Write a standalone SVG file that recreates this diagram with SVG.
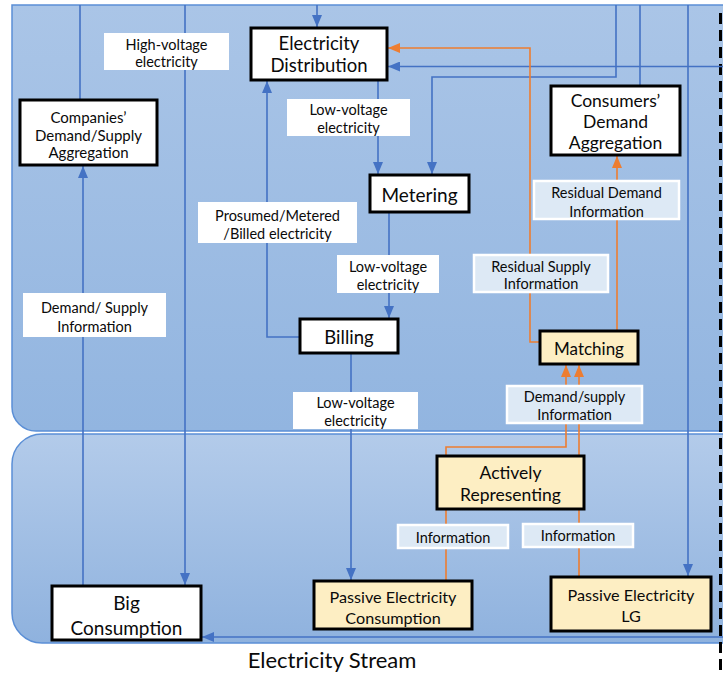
<svg xmlns="http://www.w3.org/2000/svg" width="723" height="675" viewBox="0 0 723 675">
  <defs>
    <linearGradient id="gTop" x1="0" y1="0" x2="0" y2="1">
      <stop offset="0" stop-color="#aac5e7"/>
      <stop offset="1" stop-color="#92b5e0"/>
    </linearGradient>
    <linearGradient id="gBottom" x1="0" y1="0" x2="0" y2="1">
      <stop offset="0" stop-color="#b3cbea"/>
      <stop offset="1" stop-color="#8fb2de"/>
    </linearGradient>
    <marker id="arrBlue" viewBox="0 0 12 10" markerWidth="12" markerHeight="10" refX="12" refY="5" orient="auto" markerUnits="userSpaceOnUse">
      <path d="M0,0 L12,5 L0,10 z" fill="#4472c4"/>
    </marker>
    <marker id="arrOrange" viewBox="0 0 12 10" markerWidth="12" markerHeight="10" refX="12" refY="5" orient="auto" markerUnits="userSpaceOnUse">
      <path d="M0,0 L12,5 L0,10 z" fill="#ed7d31"/>
    </marker>
  </defs>
  <style>
    text { font-family: Lato, "Open Sans", "Liberation Sans", sans-serif; fill: #0a0a0a; text-anchor: middle; dominant-baseline: central; }
    .node rect { fill: #ffffff; stroke: #000; stroke-width: 3; }
    .node.warm rect { fill: #fdeec3; }
    .node text { font-size: 17.5px; }
    .node.big text { font-size: 19px; }
    .node.small text { font-size: 15px; }
    .node.mid text { font-size: 16.2px; }
    .lbl rect { fill: #ffffff; }
    .lbl.info rect { fill: #dde9f5; stroke: #ffffff; stroke-width: 2.5; }
    .lbl text { font-size: 14.5px; }
    .blue { fill: none; stroke: #4472c4; stroke-width: 1.6; }
    .orange { fill: none; stroke: #ed7d31; stroke-width: 1.6; }
    .blue.arrow { marker-end: url(#arrBlue); }
    .orange.arrow { marker-end: url(#arrOrange); }
  </style>

  <rect width="723" height="675" fill="#ffffff"/>

  <!-- swim lanes -->
  <g id="lanes">
    <path d="M12,5 H730 V431 H36 A24,24 0 0 1 12,407 Z" fill="url(#gTop)" stroke="#5b8fd6" stroke-width="1.5"/>
    <path d="M42,434 H730 V643 H42 A30,30 0 0 1 12,613 V464 A30,30 0 0 1 42,434 Z" fill="url(#gBottom)" stroke="#5b8fd6" stroke-width="1.5"/>
  </g>

  <!-- boundary -->
  <line x1="720.5" y1="13" x2="720.5" y2="675" stroke="#000" stroke-width="3" stroke-dasharray="11 6"/>

  <!-- connectors -->
  <g id="connectors">
    <path class="blue" d="M80,5 V100"/>
    <path class="blue arrow" d="M83,586 V166"/>
    <path class="blue arrow" d="M185,5 V585"/>
    <path class="blue arrow" d="M317,5 V27"/>
    <path class="blue arrow" d="M378,80 V174"/>
    <path class="blue arrow" d="M723,66.5 H388"/>
    <path class="blue arrow" d="M616,5 V77 H432 V174"/>
    <path class="blue" d="M640,5 V86"/>
    <path class="blue arrow" d="M688,5 V576"/>
    <path class="blue arrow" d="M300,337 H267 V81"/>
    <path class="blue arrow" d="M389,212 V318"/>
    <path class="blue arrow" d="M351,353 V580"/>
    <path class="blue arrow" d="M723,637 H202"/>
    <path class="orange arrow" d="M540,342 H530 V48 H388"/>
    <path class="orange arrow" d="M617,331 V156"/>
    <path class="orange arrow" d="M446,581 V447 H566 V365"/>
    <path class="orange arrow" d="M579,577 V365"/>
  </g>

  <!-- connector labels -->
  <g id="labels">
    <g class="lbl"><rect x="104" y="33" width="125" height="37"/><text x="166.5" y="44">High-voltage</text><text x="166.5" y="61">electricity</text></g>
    <g class="lbl"><rect x="287" y="99" width="123" height="37"/><text x="348.5" y="109">Low-voltage</text><text x="348.5" y="127">electricity</text></g>
    <g class="lbl"><rect x="198" y="202" width="159" height="41"/><text x="277.5" y="215">Prosumed/Metered</text><text x="277.5" y="233">/Billed electricity</text></g>
    <g class="lbl"><rect x="337" y="255" width="102" height="38"/><text x="388" y="266">Low-voltage</text><text x="388" y="284">electricity</text></g>
    <g class="lbl"><rect x="293" y="392" width="125" height="37"/><text x="355.5" y="402">Low-voltage</text><text x="355.5" y="420">electricity</text></g>
    <g class="lbl"><rect x="23" y="293" width="143" height="44"/><text x="94.5" y="307">Demand/ Supply</text><text x="94.5" y="326">Information</text></g>
    <g class="lbl info"><rect x="534" y="181" width="145" height="38"/><text x="606.5" y="192">Residual Demand</text><text x="606.5" y="211">Information</text></g>
    <g class="lbl info"><rect x="474" y="255" width="134" height="37"/><text x="541" y="266">Residual Supply</text><text x="541" y="283">Information</text></g>
    <g class="lbl info"><rect x="507" y="386" width="135" height="37"/><text x="574.5" y="396">Demand/supply</text><text x="574.5" y="414">Information</text></g>
    <g class="lbl info"><rect x="398" y="525" width="110" height="23"/><text x="453" y="537">Information</text></g>
    <g class="lbl info"><rect x="523" y="524" width="110" height="23"/><text x="578" y="535.5">Information</text></g>
  </g>

  <!-- nodes -->
  <g id="companies-aggregation" class="node small"><rect x="20" y="100" width="137" height="65"/><text x="88.5" y="117">Companies’</text><text x="88.5" y="135">Demand/Supply</text><text x="88.5" y="152">Aggregation</text></g>
  <g id="electricity-distribution" class="node"><rect x="251" y="28" width="136" height="52"/><text x="319" y="43" style="font-size:18.5px">Electricity</text><text x="319" y="65" style="font-size:18.5px">Distribution</text></g>
  <g id="consumers-aggregation" class="node"><rect x="551" y="86" width="129" height="69"/><text x="615.5" y="100">Consumers’</text><text x="615.5" y="121">Demand</text><text x="615.5" y="142">Aggregation</text></g>
  <g id="metering" class="node big"><rect x="370" y="175" width="99" height="37"/><text x="419.5" y="194">Metering</text></g>
  <g id="billing" class="node"><rect x="300" y="319" width="98" height="34"/><text x="349" y="337" style="font-size:18.5px">Billing</text></g>
  <g id="matching" class="node warm"><rect x="540" y="331" width="98" height="33"/><text x="589" y="348" style="font-size:17px">Matching</text></g>
  <g id="actively-representing" class="node warm"><rect x="437" y="456" width="147" height="53"/><text x="510.5" y="472">Actively</text><text x="510.5" y="494">Representing</text></g>
  <g id="passive-consumption" class="node warm mid"><rect x="314" y="581" width="158" height="48"/><text x="393" y="596">Passive Electricity</text><text x="393" y="617">Consumption</text></g>
  <g id="passive-lg" class="node warm mid"><rect x="551" y="577" width="160" height="54"/><text x="631" y="594">Passive Electricity</text><text x="631" y="615">LG</text></g>
  <g id="big-consumption" class="node big"><rect x="52" y="586" width="149" height="54"/><text x="126.5" y="602">Big</text><text x="126.5" y="627">Consumption</text></g>

  <text x="332" y="659" style="font-size:22px">Electricity Stream</text>
</svg>
